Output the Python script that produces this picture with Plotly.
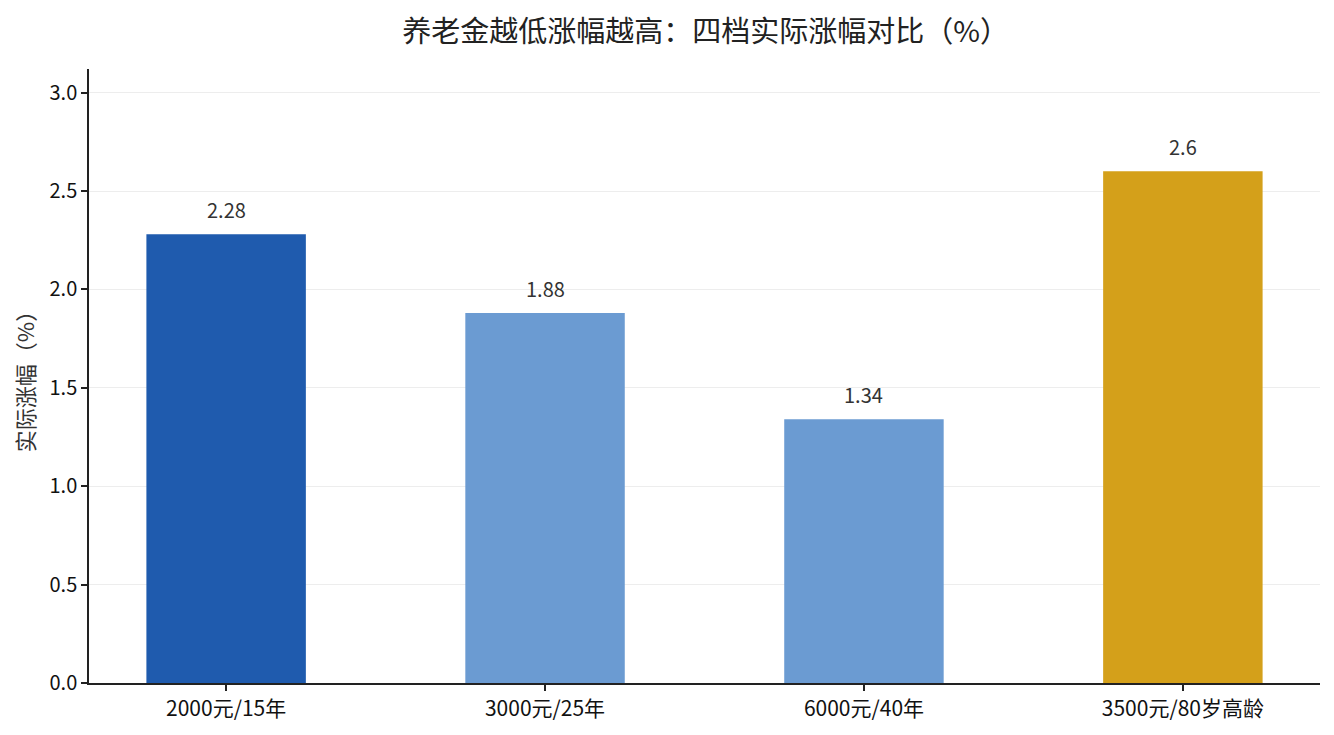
import plotly.graph_objects as go

categories = ["2000元/15年", "3000元/25年", "6000元/40年", "3500元/80岁高龄"]
values = [2.28, 1.88, 1.34, 2.6]
labels = ["2.28", "1.88", "1.34", "2.6"]
colors = ["#1f5bae", "#6b9bd2", "#6b9bd2", "#d4a01a"]
ytick_vals = [0.0, 0.5, 1.0, 1.5, 2.0, 2.5, 3.0]
ytick_text = ["0.0", "0.5", "1.0", "1.5", "2.0", "2.5", "3.0"]

FONT = "Noto Sans CJK SC"

fig = go.Figure()
fig.add_trace(go.Bar(
    x=list(range(len(categories))),
    y=values,
    marker=dict(color=colors, line=dict(width=0)),
    width=0.5,
    hoverinfo="skip",
))

for i, (v, t) in enumerate(zip(values, labels)):
    fig.add_annotation(x=i, y=v, text=t, showarrow=False, yanchor="bottom",
                       yshift=8, font=dict(family=FONT, size=20, color="#333333"))

fig.update_layout(
    width=1334, height=735,
    margin=dict(l=81, r=22, t=61, b=60),
    paper_bgcolor="white", plot_bgcolor="white",
    showlegend=False,
    font=dict(family=FONT, size=20, color="#111111"),
    title=dict(text="养老金越低涨幅越高：四档实际涨幅对比（%）", x=0.523, xanchor="center",
               y=0.982, yanchor="top", font=dict(family=FONT, size=29, color="#222222")),
)
fig.update_xaxes(
    range=[-0.43, 3.43],
    tickvals=list(range(len(categories))), ticktext=categories,
    showline=True, linecolor="#222222", linewidth=1.5,
    ticks="outside", ticklen=6, tickwidth=1.5, tickcolor="#222222",
    showgrid=False, zeroline=False,
    tickfont=dict(family=FONT, size=21, color="#111111"),
)
fig.update_yaxes(
    range=[0, 3.12],
    tickvals=ytick_vals, ticktext=ytick_text,
    showline=True, linecolor="#222222", linewidth=1.5,
    ticks="outside", ticklen=6, tickwidth=1.5, tickcolor="#222222",
    showgrid=True, gridcolor="rgba(230,230,230,0.7)", gridwidth=1,
    zeroline=False, layer="above traces",
    title=dict(text="实际涨幅（%）", font=dict(family=FONT, size=22, color="#333333"), standoff=12),
    tickfont=dict(family=FONT, size=20, color="#111111"),
)

fig.write_html("out.html")
